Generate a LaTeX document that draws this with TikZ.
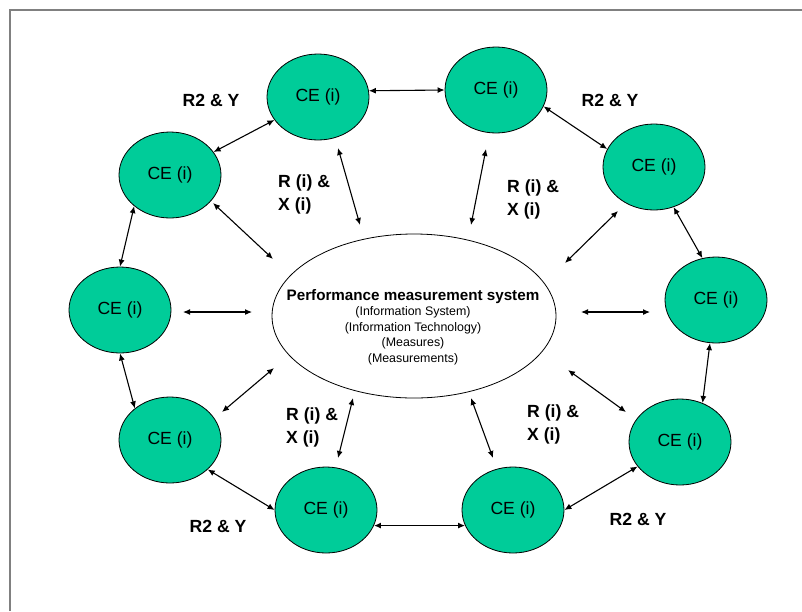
\documentclass[tikz,border=0pt]{standalone}
\usepackage{fontspec}
\setmainfont{Liberation Sans}
\usetikzlibrary{shapes.geometric,arrows.meta}
\definecolor{cegreen}{RGB}{0,204,153}
\definecolor{framegray}{RGB}{128,128,128}
\tikzset{
	ce/.style={ellipse, draw, line width=0.8pt, fill=cegreen, minimum width=102pt, minimum height=86pt, inner sep=0pt, font=\fontsize{17.6}{21}\selectfont},
	link/.style={{Latex[length=7pt,width=6pt]}-{Latex[length=7pt,width=6pt]}, line width=1.1pt},
	lbl/.style={font=\fontsize{17.6}{23}\selectfont\bfseries, inner sep=0pt},
	lblx/.style={lbl, align=left, anchor=west}
}
\begin{document}
\begin{tikzpicture}[x=1pt,y=-1pt]
		\useasboundingbox (0,0) rectangle (802,611);
		%Frame, only left and top edge
		\draw [framegray, line width=2pt] (10,611) -- (10,10) -- (802,10);
		%The central system
		\node [ellipse, draw, line width=0.8pt, minimum width=284pt, minimum height=164pt] (pms) at (414,316) {};
		\node [align=center, font=\fontsize{12.4}{15.5}\selectfont] (pmstext) at (413,327) {{\fontsize{15.2}{17}\selectfont\bfseries Performance measurement system}\\(Information System)\\(Information Technology)\\(Measures)\\(Measurements)};
		%Ring of CE nodes, clockwise from top left
		\node [ce] (ce1) at (318,97) {CE (i)};
		\node [ce] (ce2) at (496,90) {CE (i)};
		\node [ce] (ce3) at (654,167) {CE (i)};
		\node [ce] (ce4) at (716,300) {CE (i)};
		\node [ce] (ce5) at (680,442) {CE (i)};
		\node [ce] (ce6) at (513,510) {CE (i)};
		\node [ce] (ce7) at (326,510) {CE (i)};
		\node [ce] (ce8) at (170,440) {CE (i)};
		\node [ce] (ce9) at (120,310) {CE (i)};
		\node [ce] (ce10) at (170,175) {CE (i)};
		%Arrows between neighbours in the ring
		\draw [link] (ce1.7) -- (ce2.west);
		\draw [link] (ce2.-19) -- (ce3.159);
		\draw [link] (ce3.-64) -- (ce4.108);
		\draw [link] (ce4.-98) -- (ce5.60);
		\draw [link] (ce5.210) -- (ce6.east);
		\draw [link] (ce6.198) -- (ce7.-18);
		\draw [link] (ce7.west) -- (ce8.-38);
		\draw [link] (ce8.138) -- (ce9.south);
		\draw [link] (ce9.north) -- (ce10.221);
		\draw [link] (ce10) -- (ce1);
		%Spokes towards the system
		\coordinate (spoke1out) at (338,148);
		\coordinate (spoke1in) at (360,225);
		\coordinate (spoke2out) at (486,149);
		\coordinate (spoke2in) at (471,225);
		\coordinate (spoke3out) at (618,211);
		\coordinate (spoke3in) at (565,263);
		\coordinate (spoke4out) at (650,312);
		\coordinate (spoke4in) at (581,312);
		\coordinate (spoke5out) at (626,412);
		\coordinate (spoke5in) at (568,370);
		\coordinate (spoke6out) at (493,458);
		\coordinate (spoke6in) at (471,398);
		\coordinate (spoke7out) at (338,458);
		\coordinate (spoke7in) at (353,398);
		\coordinate (spoke8out) at (222,412);
		\coordinate (spoke8in) at (274,368);
		\coordinate (spoke9out) at (183,312);
		\coordinate (spoke9in) at (252,312);
		\coordinate (spoke10out) at (213,203);
		\coordinate (spoke10in) at (273,259);
		\draw [link] (spoke1out) -- (spoke1in);
		\draw [link] (spoke2out) -- (spoke2in);
		\draw [link] (spoke3out) -- (spoke3in);
		\draw [link] (spoke4out) -- (spoke4in);
		\draw [link] (spoke5out) -- (spoke5in);
		\draw [link] (spoke6out) -- (spoke6in);
		\draw [link] (spoke7out) -- (spoke7in);
		\draw [link] (spoke8out) -- (spoke8in);
		\draw [link] (spoke9out) -- (spoke9in);
		\draw [link] (spoke10out) -- (spoke10in);
		%Labels R2 & Y
		\node [lbl] (ry1) at (211,100) {R2 \& Y};
		\node [lbl] (ry2) at (610,100) {R2 \& Y};
		\node [lbl] (ry3) at (638,519) {R2 \& Y};
		\node [lbl] (ry4) at (218,526) {R2 \& Y};
		%Labels R (i) & X (i)
		\node [lblx] (rx1) at (278,194) {R (i) \&\\X (i)};
		\node [lblx] (rx2) at (507,199) {R (i) \&\\X (i)};
		\node [lblx] (rx3) at (527,424) {R (i) \&\\X (i)};
		\node [lblx] (rx4) at (286,427) {R (i) \&\\X (i)};
\end{tikzpicture}
\end{document}
